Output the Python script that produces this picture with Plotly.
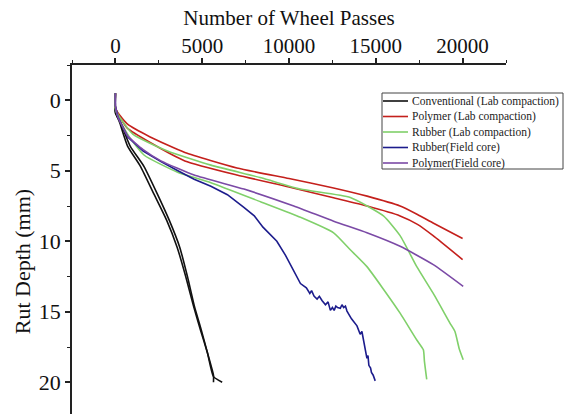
import plotly.graph_objects as go

# ---- data ----
conv1_x = [0, 0, 250, 700, 1450, 2200, 2950, 3550, 4050, 4500, 4900, 5300, 5650, 5650]
conv1_y = [-0.5, 0.8, 1.6, 3.25, 4.7, 6.6, 8.5, 10.4, 12.5, 14.6, 16.3, 17.9, 19.5, 20.0]
conv2_x = [0, 0, 300, 850, 1650, 2400, 3100, 3700, 4150, 4550, 4950, 5300, 5650, 6150]
conv2_y = [-0.5, 0.9, 1.6, 3.25, 4.7, 6.6, 8.5, 10.4, 12.5, 14.6, 16.3, 17.9, 19.6, 20.0]

poly1_x = [0, 0, 150, 700, 2000, 4000, 7000, 10000, 12500, 14500, 16400, 17400, 18300, 20000]
poly1_y = [-0.5, 0.5, 0.9, 1.7, 2.6, 3.7, 4.8, 5.55, 6.2, 6.8, 7.5, 8.1, 8.7, 9.8]
poly2_x = [0, 0, 150, 700, 2000, 4000, 7000, 10000, 12500, 14500, 16400, 17400, 18300, 20000]
poly2_y = [-0.5, 0.5, 1.0, 2.0, 3.0, 4.3, 5.3, 6.15, 6.9, 7.5, 8.2, 8.8, 9.6, 11.3]

rub1_x = [0, 0, 150, 1000, 3000, 5500, 8400, 10660, 13530, 15440, 16400, 17360, 18310, 19270, 19560, 19800, 20035]
rub1_y = [-0.5, 0.5, 1.0, 2.4, 3.6, 4.6, 5.5, 6.3, 6.9, 8.2, 9.6, 11.8, 13.7, 15.8, 16.4, 17.6, 18.4]
rub2_x = [0, 0, 200, 800, 1665, 3580, 5500, 8360, 10660, 12570, 13530, 14490, 15440, 16400, 17360, 17740, 17800, 17934]
rub2_y = [-0.5, 0.6, 1.3, 2.6, 3.9, 5.1, 5.85, 7.2, 8.3, 9.4, 10.6, 11.8, 13.4, 15.1, 17.0, 17.7, 18.5, 19.8]

rubf_x = [0, 0, 150, 712, 1600, 2623, 3600, 4535, 5500, 6452, 7400, 8000, 8500, 9000, 9300, 9800, 10300, 10660,
          11000, 11200, 11300, 11450, 11618, 11750, 11900, 12100, 12250, 12383, 12500, 12600, 12700, 12800, 12956,
          13050, 13150, 13250, 13340, 13600, 13916, 14100, 14200, 14300, 14400, 14489, 14550, 14600, 14700, 14750,
          14850, 14966]
rubf_y = [-0.5, 0.4, 1.2, 2.6, 3.6, 4.35, 5.0, 5.6, 6.1, 6.7, 7.6, 8.2, 9.0, 9.6, 10.0, 11.0, 12.2, 13.0,
          13.3, 13.7, 13.5, 13.9, 14.1, 13.9, 14.2, 14.5, 14.3, 14.9, 14.7, 14.9, 14.6, 14.7, 14.75,
          14.5, 14.7, 14.6, 14.95, 15.5, 16.0, 16.6, 16.4, 17.0, 17.6, 18.3, 18.1, 18.8, 19.0, 19.3,
          19.5, 19.9]

polyf_x = [0, 0, 150, 712, 1600, 2623, 4535, 7405, 10276, 12572, 14489, 16400, 18312, 20034]
polyf_y = [-0.5, 0.4, 1.2, 2.54, 3.5, 4.3, 5.3, 6.3, 7.5, 8.58, 9.4, 10.36, 11.66, 13.2]

x_ticks = [0, 5000, 10000, 15000, 20000]
y_ticks = [0, 5, 10, 15, 20]

names = ["Conventional (Lab compaction)", "Polymer (Lab compaction)", "Rubber (Lab compaction)",
         "Rubber(Field core)", "Polymer(Field core)"]
colors = ["#111111", "#c4201c", "#80d06a", "#1c1c8c", "#7b4aa6"]

# ---- figure ----
SERIF = "Liberation Serif"
fig = go.Figure()

def add(x, y, k, smooth=True):
    line = dict(color=colors[k], width=1.6)
    if smooth:
        line.update(shape="spline", smoothing=0.5)
    fig.add_trace(go.Scatter(x=x, y=y, mode="lines", name=names[k], legendgroup=str(k),
                             showlegend=False, line=line))

add(conv1_x, conv1_y, 0)
add(conv2_x, conv2_y, 0)
add(poly1_x, poly1_y, 1)
add(poly2_x, poly2_y, 1)
add(rub1_x, rub1_y, 2)
add(rub2_x, rub2_y, 2)
add(rubf_x, rubf_y, 3, smooth=False)
add(polyf_x, polyf_y, 4)

# plot-area geometry (pixels) for the hand-drawn legend box
L, R, T, B = 72, 62, 65, 0
W, H = 568, 414
PW, PH = W - L - R, H - T - B

def px(xp):
    return (xp - L) / PW

def py(yp):
    return 1 - (yp - T) / PH

shapes = [dict(type="rect", xref="paper", yref="paper", x0=px(382), x1=px(563), y0=py(93), y1=py(169),
               line=dict(color="#444", width=1), fillcolor="white", layer="above")]
annotations = []
row_y = [101, 116.5, 132, 147.5, 163]
for k, name in enumerate(names):
    shapes.append(dict(type="line", xref="paper", yref="paper", x0=px(383), x1=px(408),
                       y0=py(row_y[k]), y1=py(row_y[k]), line=dict(color=colors[k], width=1.6), layer="above"))
    annotations.append(dict(text=name, xref="paper", yref="paper", x=px(410), y=py(row_y[k]),
                            xanchor="left", yanchor="middle", showarrow=False,
                            font=dict(family=SERIF, size=11.5, color="#222")))

annotations.append(dict(text="Rut Depth (mm)", textangle=-90, xref="paper", yref="paper",
                        x=-0.115, y=0.435, xanchor="center", yanchor="middle", showarrow=False,
                        font=dict(family=SERIF, size=22, color="#111")))

fig.update_layout(
    width=W, height=H,
    margin=dict(l=L, r=R, t=T, b=B),
    paper_bgcolor="white", plot_bgcolor="white",
    font=dict(family=SERIF, size=22, color="#111"),
    showlegend=False,
    xaxis=dict(side="top", range=[-2500, 22500], tickvals=x_ticks,
               ticktext=[str(v) for v in x_ticks],
               showgrid=False, zeroline=False, showline=True, linecolor="#222", linewidth=1.5,
               ticks="outside", ticklen=5, tickwidth=1.5, tickcolor="#222", ticklabelstandoff=-3,
               minor=dict(dtick=2500, tick0=0, ticks="outside", ticklen=3, tickwidth=1.2, tickcolor="#222"),
               title=dict(text="Number of Wheel Passes", standoff=2,
                          font=dict(family=SERIF, size=21, color="#111")),
               tickfont=dict(family=SERIF, size=21, color="#111")),
    yaxis=dict(range=[22.25, -2.5], tickvals=y_ticks, ticktext=[str(v) for v in y_ticks],
               showgrid=False, zeroline=False, showline=True, linecolor="#222", linewidth=1.5,
               ticks="outside", ticklen=5, tickwidth=1.5, tickcolor="#222",
               minor=dict(dtick=2.5, tick0=0, ticks="outside", ticklen=3, tickwidth=1.2, tickcolor="#222"),
               tickfont=dict(family=SERIF, size=22, color="#111")),
    shapes=shapes,
    annotations=annotations,
)

fig.write_html("out.html")
